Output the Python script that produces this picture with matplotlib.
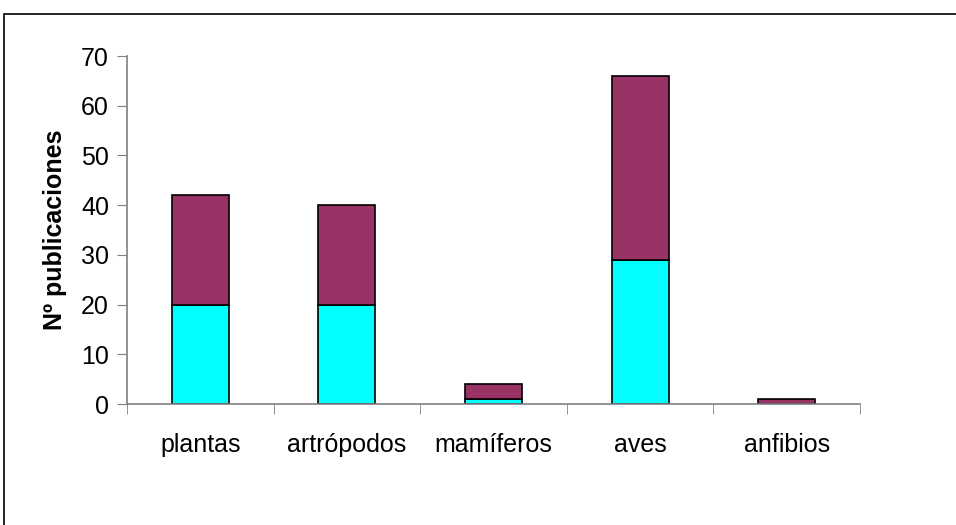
import matplotlib
matplotlib.use("Agg")
import matplotlib.pyplot as plt
from matplotlib.patches import Rectangle
import numpy as np

categories = ["plantas", "artrópodos", "mamíferos", "aves", "anfibios"]
lower_vals = [20, 20, 1, 29, 0]
upper_vals = [22, 20, 3, 37, 1]
yticks = [0, 10, 20, 30, 40, 50, 60, 70]

plt.rcParams["font.family"] = ["Liberation Sans", "DejaVu Sans"]

fig = plt.figure(figsize=(9.56, 5.25), dpi=100)
fig.patches.append(Rectangle((4 / 956, -0.01), 1.02, 1 - 14 / 525 + 0.01,
                             transform=fig.transFigure, fill=False,
                             edgecolor="black", linewidth=1.2))

ax = fig.add_axes([127 / 956, 1 - 404 / 525, (860 - 127) / 956, (404 - 56) / 525])
x = np.arange(len(categories))
w = 0.39
ax.bar(x, lower_vals, width=w, color="#00FFFF", edgecolor="black", linewidth=1.2)
ax.bar(x, upper_vals, width=w, bottom=lower_vals, color="#993366",
       edgecolor="black", linewidth=1.2)

ax.set_xlim(-0.5, len(categories) - 0.5)
ax.set_ylim(0, 70)
ax.set_yticks(yticks)
ax.set_xticks(x)
ax.set_xticklabels(categories, fontsize=18)
ax.tick_params(axis="x", which="major", length=0, pad=21)
ax.set_xticks(np.arange(-0.5, len(categories)), minor=True)
ax.tick_params(axis="x", which="minor", length=7, color="#808080", direction="out")
ax.tick_params(axis="y", labelsize=18, length=7, color="#808080", direction="out", pad=6)

for s in ["top", "right"]:
    ax.spines[s].set_visible(False)
for s in ["left", "bottom"]:
    ax.spines[s].set_color("#808080")
    ax.spines[s].set_linewidth(1.2)

ax.set_ylabel("Nº publicaciones", fontsize=18, fontweight="bold")
ax.yaxis.set_label_coords(-0.082, 0.5)

fig.savefig("out.png", dpi=100)
